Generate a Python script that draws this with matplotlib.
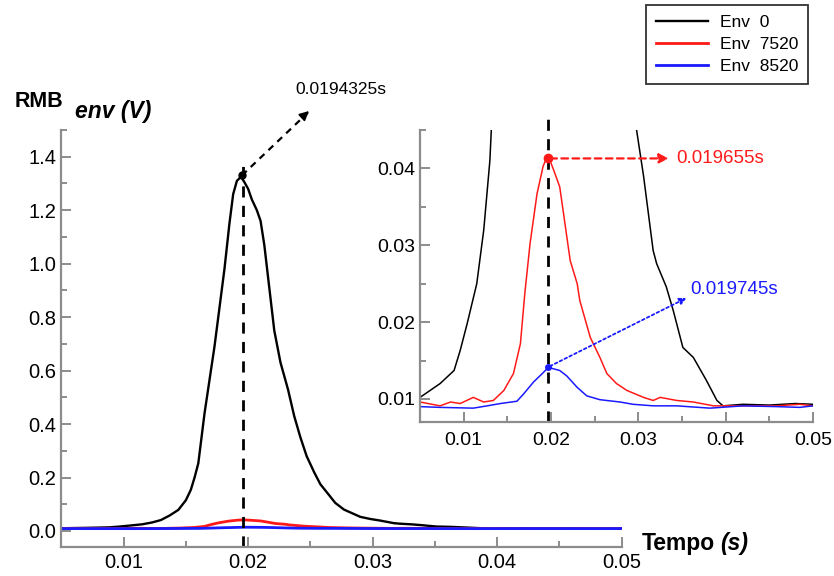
import numpy as np
import matplotlib.pyplot as plt
from matplotlib.ticker import MultipleLocator

plt.rcParams['font.family'] = ['Liberation Sans', 'DejaVu Sans']

# %% datos
t_env0 = [0.005, 0.0073, 0.0089, 0.0096, 0.0104, 0.0115, 0.0123, 0.0130, 0.0137,
          0.0144, 0.0150, 0.0154, 0.0157, 0.0160, 0.0165, 0.0173, 0.0181, 0.0185,
          0.0188, 0.0191, 0.01943, 0.0197, 0.0200, 0.0203, 0.0207, 0.0210, 0.0213,
          0.0216, 0.0221, 0.0226, 0.0232, 0.0237, 0.0242, 0.0247, 0.0253, 0.0258,
          0.0264, 0.0270, 0.0277, 0.0290, 0.0298, 0.0306, 0.0317, 0.0321, 0.0332,
          0.0340, 0.0351, 0.0363, 0.0378, 0.0390, 0.0397, 0.0420, 0.0450, 0.0480,
          0.0500]
v_env0 = [0.0102, 0.0120, 0.0137, 0.0163, 0.0198, 0.0250, 0.0320, 0.0410, 0.058,
          0.079, 0.115, 0.154, 0.20, 0.253, 0.44, 0.69, 0.98, 1.15,
          1.26, 1.31, 1.325, 1.305, 1.28, 1.24, 1.20, 1.16, 1.07,
          0.95, 0.75, 0.63, 0.53, 0.43, 0.35, 0.28, 0.22, 0.175,
          0.14, 0.105, 0.08, 0.053, 0.045, 0.039, 0.0293, 0.0276, 0.0246,
          0.0215, 0.0167, 0.0154, 0.0124, 0.0098, 0.0091, 0.0093, 0.0092, 0.0094,
          0.0093]

t_env7520 = [0.005, 0.0073, 0.0085, 0.0096, 0.0111, 0.0123, 0.0134, 0.0146, 0.0157,
             0.0165, 0.0170, 0.0176, 0.0184, 0.0191, 0.0194, 0.0197, 0.0200, 0.0203,
             0.0210, 0.0222, 0.0230, 0.0233, 0.0245, 0.0256, 0.0264, 0.0275, 0.0287,
             0.0306, 0.0317, 0.0325, 0.0344, 0.0363, 0.0386, 0.0420, 0.0458, 0.0485,
             0.0500]
v_env7520 = [0.0096, 0.0091, 0.0096, 0.0094, 0.0102, 0.0096, 0.0098, 0.0111, 0.0133,
             0.0172, 0.0237, 0.0302, 0.0367, 0.0403, 0.0411, 0.0413, 0.0407, 0.0398,
             0.0376, 0.0280, 0.0250, 0.0228, 0.0180, 0.0154, 0.0133, 0.0120, 0.0111,
             0.0102, 0.0098, 0.0102, 0.0098, 0.0096, 0.0091, 0.0091, 0.0091, 0.0093,
             0.0091]

t_env8520 = [0.005, 0.0073, 0.0111, 0.0127, 0.0142, 0.0161, 0.0169, 0.0180, 0.0190,
             0.0197, 0.0210, 0.0218, 0.0230, 0.0241, 0.0256, 0.0279, 0.0294, 0.0317,
             0.0344, 0.0382, 0.0420, 0.0458, 0.0485, 0.0500]
v_env8520 = [0.0090, 0.0089, 0.0088, 0.0091, 0.0094, 0.0097, 0.0107, 0.0122, 0.0133,
             0.0141, 0.0137, 0.0130, 0.0115, 0.0104, 0.0099, 0.0096, 0.0093, 0.0091,
             0.0091, 0.0088, 0.0091, 0.0090, 0.0089, 0.0091]

etiquetas = ['Env  0', 'Env  7520', 'Env  8520']
colores = ['black', '#ff1a1a', '#1a1aff']

t_pico = 0.0196
pico_env0 = (0.0195, 1.33)
pico_env7520 = (0.0196, 0.0413)
pico_env8520 = (0.0196, 0.0141)

gris = '#8c8c8c'

def estilo_ejes(ax, tam):
    for lado in ['top', 'right']:
        ax.spines[lado].set_visible(False)
    for lado in ['left', 'bottom']:
        ax.spines[lado].set_color(gris)
        ax.spines[lado].set_linewidth(1.6)
    ax.tick_params(which='both', direction='in', color=gris, width=1.4, labelsize=tam)
    ax.tick_params(which='major', length=7)
    ax.tick_params(which='minor', length=4)

fig = plt.figure(figsize=(8.34, 5.76), dpi=100)

# %% grafico principal
ax = fig.add_axes([0.0735, 0.0503, 0.672, 0.724])
lineas = []
for t, v, c, lab, lw in zip([t_env0, t_env7520, t_env8520],
                            [v_env0, v_env7520, v_env8520],
                            colores, etiquetas, [1.7, 2.0, 2.0]):
    l, = ax.plot(t, v, color=c, lw=lw, label=lab)
    lineas.append(l)
ax.set_xlim(0.005, 0.05)
ax.set_ylim(-0.06, 1.5)
ax.xaxis.set_major_locator(MultipleLocator(0.01))
ax.xaxis.set_minor_locator(MultipleLocator(0.005))
ax.yaxis.set_major_locator(MultipleLocator(0.2))
ax.yaxis.set_minor_locator(MultipleLocator(0.1))
ax.yaxis.set_major_formatter(lambda y, p: f"{y:.1f}")
estilo_ejes(ax, 14.5)
ax.tick_params(axis='x', pad=4)

ax.plot([t_pico, t_pico], [-0.06, 1.38], color='black', lw=2, ls=(0, (4, 3)), clip_on=False)
ax.plot(*pico_env0, 'o', color='black', ms=5)
ax.plot([pico_env0[0], 0.0248], [pico_env0[1], 1.565], color='black', lw=1.6,
        ls=(0, (3, 2.5)), clip_on=False)
ax.annotate('', xy=(0.02505, 1.578), xytext=(0.0242, 1.542),
            arrowprops=dict(arrowstyle='-|>', color='black', lw=1.2, mutation_scale=14),
            annotation_clip=False)
ax.text(0.0238, 1.65, '0.0194325s', fontsize=12.5, va='center', ha='left')

fig.text(0.017, 0.815, 'RMB', fontsize=15.5, fontweight='bold', va='baseline')
fig.text(0.09, 0.795, 'env (V)', fontsize=16.5, fontweight='bold', style='italic',
         va='baseline')
fig.text(0.769, 0.045, 'Tempo', fontsize=16.5, fontweight='bold', va='baseline')
fig.text(0.863, 0.045, '(s)', fontsize=16.5, fontweight='bold', style='italic',
         va='baseline')

# %% inset
ax2 = fig.add_axes([0.5036, 0.2674, 0.4712, 0.5069])
for t, v, c in zip([t_env0, t_env7520, t_env8520],
                   [v_env0, v_env7520, v_env8520], colores):
    ax2.plot(t, v, color=c, lw=1.1)
ax2.set_xlim(0.005, 0.05)
ax2.set_ylim(0.007, 0.045)
ax2.xaxis.set_major_locator(MultipleLocator(0.01))
ax2.xaxis.set_minor_locator(MultipleLocator(0.005))
ax2.yaxis.set_major_locator(MultipleLocator(0.01))
ax2.yaxis.set_minor_locator(MultipleLocator(0.005))
estilo_ejes(ax2, 14)
ax2.tick_params(axis='x', pad=7)

ax2.plot([t_pico, t_pico], [0.007, 0.0475], color='black', lw=2, ls=(0, (4, 3)), clip_on=False)

ax2.plot(*pico_env7520, 'o', color='#ff1a1a', ms=6)
ax2.annotate('', xy=(0.0338, 0.0413), xytext=pico_env7520,
             arrowprops=dict(arrowstyle='-|>', color='#ff1a1a', lw=1.6,
                             linestyle=(0, (3, 2)), mutation_scale=14))
ax2.text(0.0344, 0.0413, '0.019655s', color='#ff1a1a', fontsize=13.5, va='center')

ax2.plot(*pico_env8520, 'o', color='#1a1aff', ms=4)
ax2.annotate('', xy=(0.0358, 0.0233), xytext=pico_env8520,
             arrowprops=dict(arrowstyle='-|>', color='#1a1aff', lw=1.3,
                             linestyle=(0, (1.5, 1.5)), mutation_scale=10))
ax2.text(0.0360, 0.0242, '0.019745s', color='#1a1aff', fontsize=13.5, va='center')

# %% leyenda
leg = fig.legend(lineas, etiquetas, loc='upper right', bbox_to_anchor=(0.969, 0.991),
                 fontsize=12.5, handlelength=3.0, frameon=True, fancybox=False,
                 edgecolor='black', borderpad=0.55, labelspacing=0.4, handletextpad=0.7,
                 borderaxespad=0)
leg.get_frame().set_linewidth(1.3)

plt.savefig('out.png', dpi=100)
